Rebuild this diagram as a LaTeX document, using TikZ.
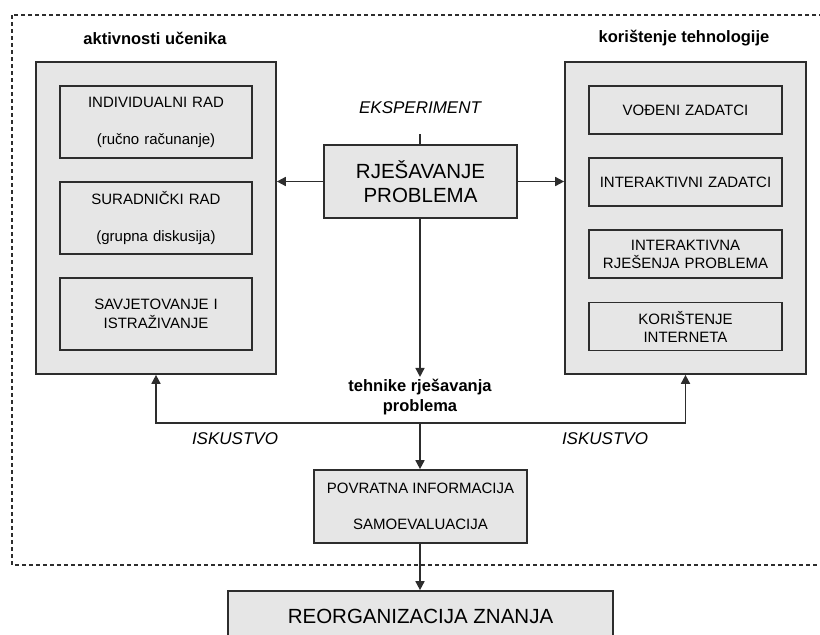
\documentclass[tikz,border=0pt]{standalone}
\usepackage{fontspec}
\setmainfont{Liberation Sans}
\usetikzlibrary{arrows.meta, positioning}
\definecolor{boxgray}{RGB}{230, 230, 230}
\definecolor{inkgray}{RGB}{45, 45, 45}
\begin{document}
\begin{tikzpicture}[x=1pt, y=-1pt,
  panel/.style={draw=inkgray, line width=1.7pt, fill=boxgray, inner sep=0pt},
  item/.style={panel, minimum height=48pt, text width=185pt, align=center, font=\fontsize{15}{18}\selectfont},
  head/.style={font=\bfseries\fontsize{16.5}{20}\selectfont, align=center},
  tag/.style={font=\itshape\fontsize{17}{20}\selectfont},
  link/.style={draw=inkgray, line width=1.7pt},
  arr/.style={link, -{Triangle[length=9pt, width=9pt]}}
]
  \useasboundingbox (0,0) rectangle (820,635);
  \draw[inkgray, line width=1.2pt, dash pattern=on 4pt off 3pt] (12,15) rectangle (830,565);

  \node[head] (learnhead) at (155,38) {aktivnosti učenika};
  \node[head] (techhead) at (684,38) {korištenje tehnologije};

  \node[panel, minimum width=240pt, minimum height=312pt] (learner) at (156,218) {};
  \node[item, minimum width=192pt, minimum height=72pt] (indiv) at (156,122) {INDIVIDUALNI RAD\\[19pt](ručno računanje)};
  \node[item, minimum width=192pt, minimum height=72pt] (collab) at (156,218) {SURADNIČKI RAD\\[19pt](grupna diskusija)};
  \node[item, minimum width=192pt, minimum height=72pt] (advice) at (156,314) {SAVJETOVANJE I\\[1pt]ISTRAŽIVANJE};

  \node[panel, minimum width=241pt, minimum height=312pt] (techbox) at (685.5,218) {};
  \node[item, minimum width=193pt] (guided) at (685.5,110) {VOĐENI ZADATCI};
  \node[item, minimum width=193pt] (interact) at (685.5,182) {INTERAKTIVNI ZADATCI};
  \node[item, minimum width=193pt] (solutions) at (685.5,254) {INTERAKTIVNA\\RJEŠENJA PROBLEMA};
  \node[item, minimum width=193pt] (internet) at (685.5,326.5) {KORIŠTENJE\\INTERNETA};

  \node[tag] (experiment) at (420,108) {EKSPERIMENT};
  \coordinate (expfoot) at (420,134);
  \node[panel, minimum width=193pt, minimum height=73pt, align=center, font=\fontsize{20.5}{24}\selectfont] (solve) at (420.5,181.5) {RJEŠAVANJE\\PROBLEMA};

  \node[head, inner sep=2pt] (technique) at (420,397) {tehnike rješavanja\\problema};
  \coordinate (fork) at (420,423);
  \node[tag] (expleft) at (235,439) {ISKUSTVO};
  \node[tag] (expright) at (605,439) {ISKUSTVO};

  \node[panel, minimum width=213pt, minimum height=73pt, align=center, font=\fontsize{15}{18}\selectfont] (feedback) at (420.5,506.5) {POVRATNA INFORMACIJA\\[18pt]SAMOEVALUACIJA};
  \node[panel, minimum width=385pt, minimum height=50pt, font=\fontsize{20.5}{24}\selectfont] (reorg) at (420.5,616) {REORGANIZACIJA ZNANJA};

  \draw[link] (expfoot) -- (expfoot |- solve.north);
  \draw[arr] (solve.west) -- (solve.west -| learner.east);
  \draw[arr] (solve.east) -- (solve.east -| techbox.west);
  \draw[arr] (solve.south -| expfoot) -- (technique.north);
  \draw[arr] (fork) -| (learner.south);
  \draw[arr] (fork) -| (techbox.south);
  \draw[arr] (fork) -- (fork |- feedback.north);
  \draw[arr] (feedback.south -| fork) -- (fork |- reorg.north);
\end{tikzpicture}
\end{document}
